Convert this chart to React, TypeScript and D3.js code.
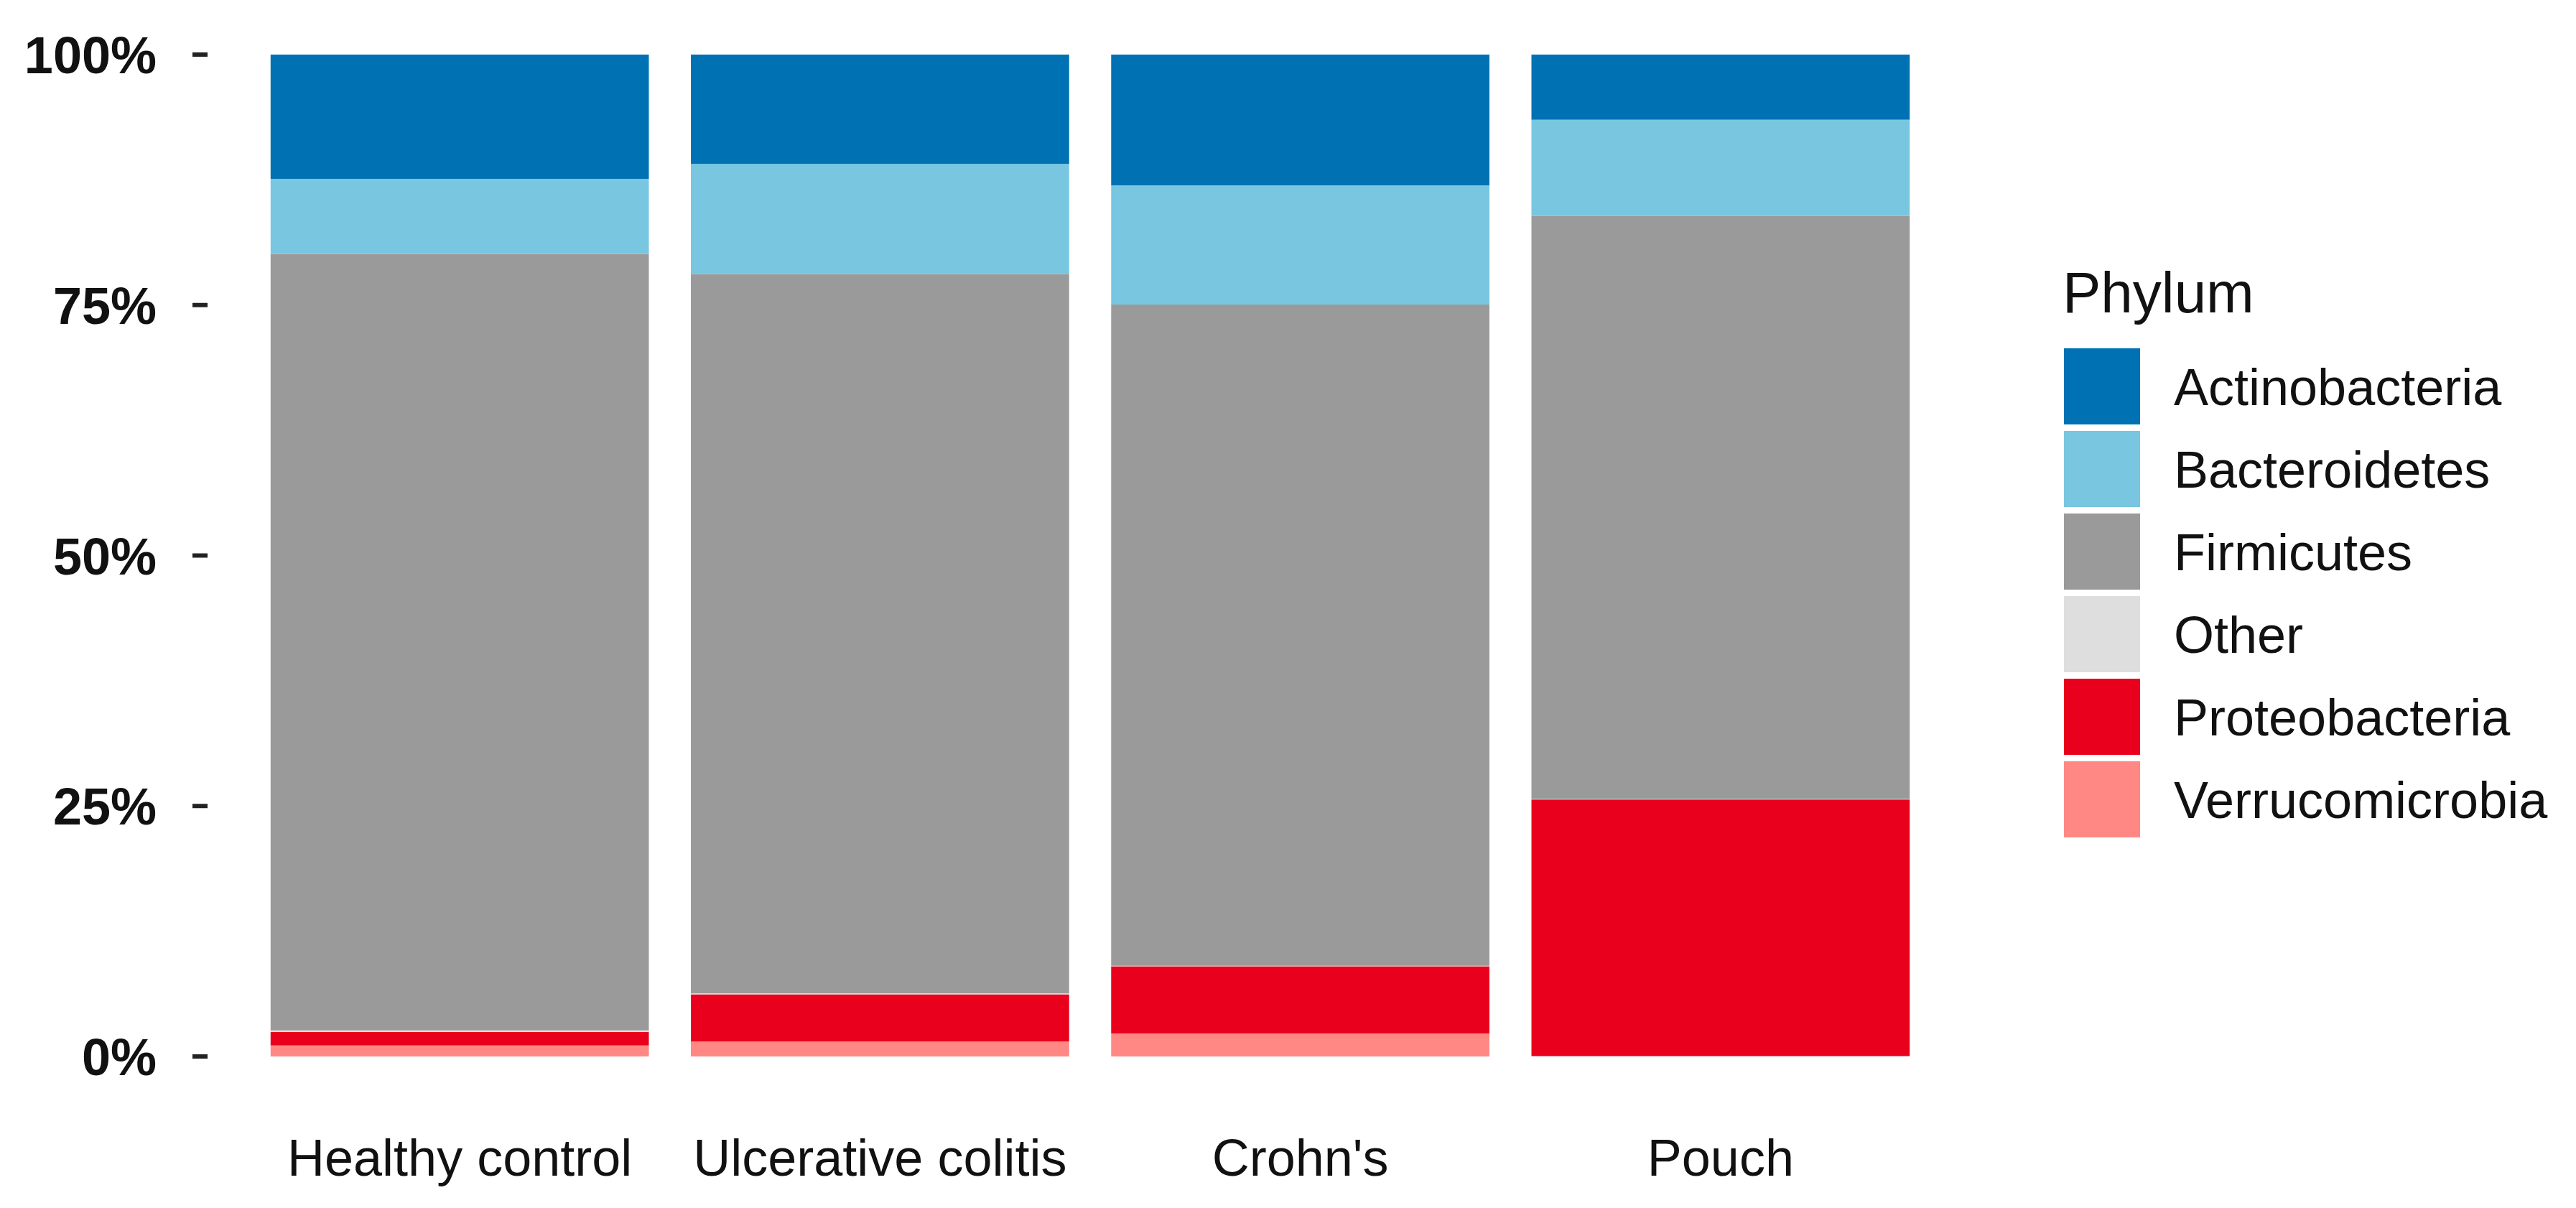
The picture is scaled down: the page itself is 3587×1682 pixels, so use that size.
import React from "react";
import * as d3 from "d3";

const categories = ["Healthy control", "Ulcerative colitis", "Crohn's", "Pouch"];
const phyla = ["Actinobacteria", "Bacteroidetes", "Firmicutes", "Other", "Proteobacteria", "Verrucomicrobia"];
const phylumColors = ["#0071B3", "#78C6E0", "#9A9A9A", "#DEDEDE", "#E9001C", "#FF8884"];

// percentages per category, in phyla order
const actinobacteria = [12.4, 10.9, 13.05, 6.5];
const bacteroidetes = [7.5, 11.0, 11.9, 9.6];
const firmicutes = [77.5, 71.8, 66.0, 58.2];
const other = [0.15, 0.1, 0.05, 0.05];
const proteobacteria = [1.35, 4.7, 6.7, 25.6];
const verrucomicrobia = [1.1, 1.5, 2.3, 0.05];

const yTicks = [0, 25, 50, 75, 100];

const W = 3587;
const H = 1682;
const panel = { left: 289, right: 2747, top: 76, bottom: 1471 };
const FONT = "'Liberation Sans', Arial, Helvetica, sans-serif";

export default function App() {
  const seriesValues = [actinobacteria, bacteroidetes, firmicutes, other, proteobacteria, verrucomicrobia];
  const rows = categories.map((c, i) => {
    const r: any = { category: c };
    phyla.forEach((p, j) => (r[p] = seriesValues[j][i]));
    return r;
  });
  // stack bottom-up in reverse legend order so Actinobacteria is on top
  const stackKeys = [...phyla].reverse();
  const stacked = d3.stack<any>().keys(stackKeys)(rows);

  const x = d3.scalePoint<string>().domain(categories).range([panel.left, panel.right]).padding(0.6);
  const step = x.step();
  const barW = step * 0.9;
  const y = d3.scaleLinear().domain([0, 100]).range([panel.bottom, panel.top]);
  const color = d3.scaleOrdinal<string, string>().domain(phyla).range(phylumColors);

  const keySize = 106;
  const keyStep = 115;
  const keyTop = 485;
  const keyX = 2874;

  return (
    <svg width={W} height={H} style={{ position: "absolute", left: 0, top: 0, background: "#fff" }}>
      <rect x={0} y={0} width={W} height={H} fill="#fff" />
      {stacked.map((layer) => (
        <g key={layer.key} fill={color(layer.key)}>
          {layer.map((d, i) => (
            <rect
              key={i}
              x={(x(categories[i]) as number) - barW / 2}
              y={y(d[1])}
              width={barW}
              height={Math.max(0, y(d[0]) - y(d[1]))}
            />
          ))}
        </g>
      ))}
      {/* y axis */}
      <g>
        {yTicks.map((t) => (
          <g key={t}>
            <line x1={panel.left - 21} x2={panel.left} y1={y(t)} y2={y(t)} stroke="#222" strokeWidth={6} />
            <text
              x={218}
              y={y(t) + 26}
              textAnchor="end"
              fontFamily={FONT}
              fontWeight="bold"
              fontSize={72}
              fill="#111"
            >
              {`${t}%`}
            </text>
          </g>
        ))}
      </g>
      {/* x labels */}
      <g>
        {categories.map((c) => (
          <text key={c} x={x(c)} y={1637} textAnchor="middle" fontFamily={FONT} fontSize={72} fill="#111">
            {c}
          </text>
        ))}
      </g>
      {/* legend */}
      <g>
        <text x={2872} y={435} fontFamily={FONT} fontSize={80} fill="#111">
          Phylum
        </text>
        {phyla.map((p, i) => (
          <g key={p}>
            <rect x={keyX} y={keyTop + i * keyStep} width={keySize} height={keySize} fill={color(p)} />
            <text
              x={3027}
              y={keyTop + i * keyStep + keySize / 2 + 26}
              fontFamily={FONT}
              fontSize={72}
              fill="#111"
            >
              {p}
            </text>
          </g>
        ))}
      </g>
    </svg>
  );
}
